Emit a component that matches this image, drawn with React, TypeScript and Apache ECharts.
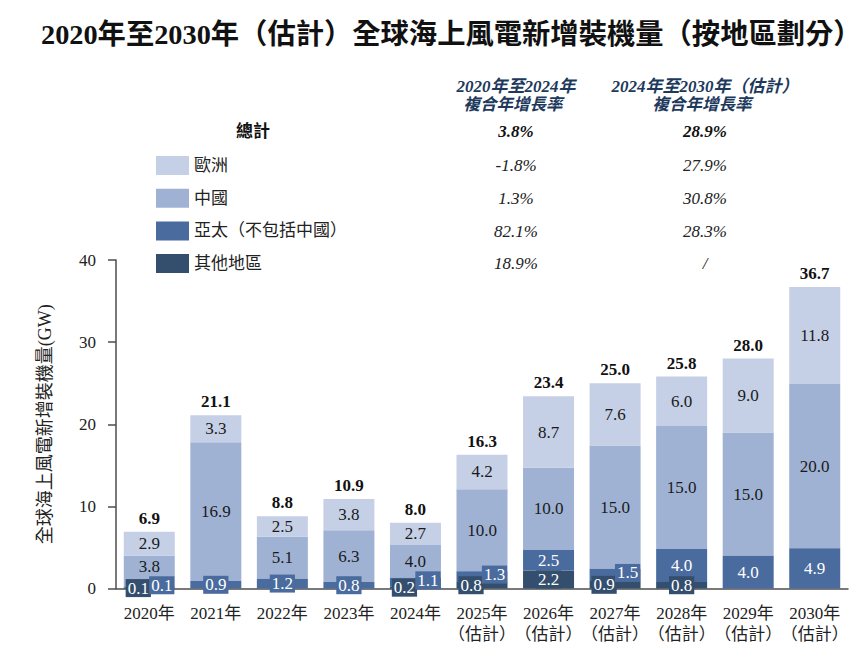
import React, { useEffect, useRef } from "react";
import * as echarts from "echarts";

const categories = [
  "2020年", "2021年", "2022年", "2023年", "2024年",
  "2025年\n（估計）", "2026年\n（估計）", "2027年\n（估計）",
  "2028年\n（估計）", "2029年\n（估計）", "2030年\n（估計）",
];
const europe = [2.9, 3.3, 2.5, 3.8, 2.7, 4.2, 8.7, 7.6, 6.0, 9.0, 11.8];
const china = [3.8, 16.9, 5.1, 6.3, 4.0, 10.0, 10.0, 15.0, 15.0, 15.0, 20.0];
const asiaPac = [0.1, 0.9, 1.2, 0.8, 1.1, 1.3, 2.5, 1.5, 4.0, 4.0, 4.9];
const others = [0.1, 0, 0, 0, 0.2, 0.8, 2.2, 0.9, 0.8, 0, 0];
const totals = [6.9, 21.1, 8.8, 10.9, 8.0, 16.3, 23.4, 25.0, 25.8, 28.0, 36.7];

const seriesNames = ["歐洲", "中國", "亞太（不包括中國）", "其他地區"];
const cagr2020to2024 = ["-1.8%", "1.3%", "82.1%", "18.9%"];
const cagr2024to2030 = ["27.9%", "30.8%", "28.3%", "/"];
const totalCagr = ["3.8%", "28.9%"];
const headerPeriods = ["2020年至2024年", "2024年至2030年（估計）"];
const headerMetric = "複合年增長率";

// label placement styles for small bottom segments: L = shift left, R = shift right, C = centred, U = lift up
const othersPlacement = ["L", "C", "C", "C", "L", "L", "C", "L", "C", "C", "C"];
const asiaPlacement = ["R", "C", "C", "C", "R", "R", "C", "R", "C", "C", "C"];
const chinaPlacement = ["U", "C", "C", "C", "C", "C", "C", "C", "C", "C", "C"];

const FONT = "'Liberation Serif', 'Noto Sans CJK TC', serif";
const COLORS = {
  europe: "#c5d0e6",
  china: "#9fb2d4",
  asia: "#4a6b9e",
  others: "#344e6e",
};

function placeOffset(p: string): number[] {
  if (p === "L") return [-11, 0];
  if (p === "R") return [12.5, -2];
  if (p === "U") return [0, -5];
  return [0, 0];
}

export default function App() {
  const ref = useRef<HTMLDivElement>(null);
  useEffect(() => {
    if (!ref.current) return;
    const chart = echarts.init(ref.current, null, { renderer: "svg" });

    const buildData = (vals: number[], placement: string[] | null) =>
      vals.map((v, i) => {
        if (v === 0) return { value: v, label: { show: false } };
        if (placement) return { value: v, label: { offset: placeOffset(placement[i]) } };
        return { value: v };
      });

    const smallLabel = (bg: string) => ({
      show: true,
      position: "inside",
      color: "#fff",
      fontSize: 17,
      fontFamily: FONT,
      backgroundColor: bg,
      padding: [1, 2, 0, 2],
      formatter: (p: any) => Number(p.value).toFixed(1),
    });
    const lightLabel = {
      show: true,
      position: "inside",
      color: "#1a1a1a",
      fontSize: 17,
      fontFamily: FONT,
      formatter: (p: any) => Number(p.value).toFixed(1),
    };

    const graphic: any[] = [];
    const col1 = 516;
    const col2 = 705;
    headerPeriods.forEach((h, i) => {
      const x = i === 0 ? col1 : col2;
      graphic.push({
        type: "text",
        x,
        y: 86,
        style: {
          text: h,
          fill: "#1d3a5c",
          font: `italic bold 17px ${FONT}`,
          align: "center",
          verticalAlign: "middle",
        },
      });
      graphic.push({
        type: "text",
        x: x - 3,
        y: 104,
        style: {
          text: headerMetric,
          fill: "#1d3a5c",
          font: `italic bold 16.5px ${FONT}`,
          align: "center",
          verticalAlign: "middle",
        },
      });
    });
    graphic.push({
      type: "text",
      x: 253,
      y: 131,
      style: { text: "總計", fill: "#111", font: `bold 17px ${FONT}`, align: "center", verticalAlign: "middle" },
    });
    totalCagr.forEach((t, i) => {
      graphic.push({
        type: "text",
        x: i === 0 ? col1 : col2,
        y: 131,
        style: { text: t, fill: "#111", font: `italic bold 17px ${FONT}`, align: "center", verticalAlign: "middle" },
      });
    });
    const rowY = [165.5, 198.5, 231, 263.5];
    rowY.forEach((y, i) => {
      graphic.push({
        type: "text",
        x: col1,
        y,
        style: { text: cagr2020to2024[i], fill: "#222", font: `italic 17px ${FONT}`, align: "center", verticalAlign: "middle" },
      });
      graphic.push({
        type: "text",
        x: col2,
        y,
        style: { text: cagr2024to2030[i], fill: "#222", font: `italic 17px ${FONT}`, align: "center", verticalAlign: "middle" },
      });
    });

    chart.setOption({
      animation: false,
      backgroundColor: "#fff",
      title: {
        text: "2020年至2030年（估計）全球海上風電新增裝機量（按地區劃分）",
        left: 36,
        top: 15,
        textStyle: { fontSize: 28.3, fontWeight: "bold", color: "#111", fontFamily: FONT },
      },
      legend: {
        orient: "vertical",
        left: 151,
        top: 151,
        itemWidth: 33,
        itemHeight: 19,
        itemGap: 13.7,
        icon: "rect",
        selectedMode: false,
        data: seriesNames,
        textStyle: { fontSize: 17, color: "#222", fontFamily: FONT, lineHeight: 19 },
      },
      graphic,
      grid: { left: 116, right: 18, top: 260, bottom: 65.5, containLabel: false },
      xAxis: {
        type: "category",
        data: categories,
        axisLine: { show: true, lineStyle: { color: "#4d4d4d", width: 1.5 } },
        axisTick: { show: false },
        axisLabel: { interval: 0, margin: 14, fontSize: 17, color: "#222", fontFamily: FONT, lineHeight: 21 },
      },
      yAxis: {
        type: "value",
        min: 0,
        max: 40,
        interval: 10,
        name: "全球海上風電新增裝機量(GW)",
        nameLocation: "middle",
        nameRotate: 90,
        nameGap: 62,
        nameTextStyle: { fontSize: 18, color: "#222", fontFamily: FONT },
        axisLine: { show: true, lineStyle: { color: "#4d4d4d", width: 1.5 } },
        axisTick: { show: true, length: 8, lineStyle: { color: "#4d4d4d", width: 1.5 } },
        splitLine: { show: false },
        axisLabel: { margin: 20, fontSize: 17, color: "#222", fontFamily: FONT },
      },
      series: [
        {
          name: seriesNames[3],
          type: "bar",
          stack: "total",
          barWidth: 51,
          itemStyle: { color: COLORS.others },
          label: smallLabel(COLORS.others),
          data: buildData(others, othersPlacement),
          z: 3,
        },
        {
          name: seriesNames[2],
          type: "bar",
          stack: "total",
          barWidth: 51,
          itemStyle: { color: COLORS.asia },
          label: smallLabel(COLORS.asia),
          data: buildData(asiaPac, asiaPlacement),
          z: 3,
        },
        {
          name: seriesNames[1],
          type: "bar",
          stack: "total",
          barWidth: 51,
          itemStyle: { color: COLORS.china },
          label: lightLabel,
          data: buildData(china, chinaPlacement),
        },
        {
          name: seriesNames[0],
          type: "bar",
          stack: "total",
          barWidth: 51,
          itemStyle: { color: COLORS.europe },
          label: lightLabel,
          data: buildData(europe, null),
        },
        {
          name: "總計",
          type: "bar",
          stack: "total",
          barWidth: 51,
          itemStyle: { color: "transparent" },
          data: totals.map(() => 0),
          label: {
            show: true,
            position: "top",
            distance: 5,
            color: "#111",
            fontSize: 17,
            fontWeight: "bold",
            fontFamily: FONT,
            formatter: (p: any) => totals[p.dataIndex].toFixed(1),
          },
        },
      ],
    });
    return () => chart.dispose();
  }, []);
  return (
    <div
      ref={ref}
      style={{ position: "fixed", left: 0, top: 0, width: 866, height: 654, background: "#fff" }}
    />
  );
}
